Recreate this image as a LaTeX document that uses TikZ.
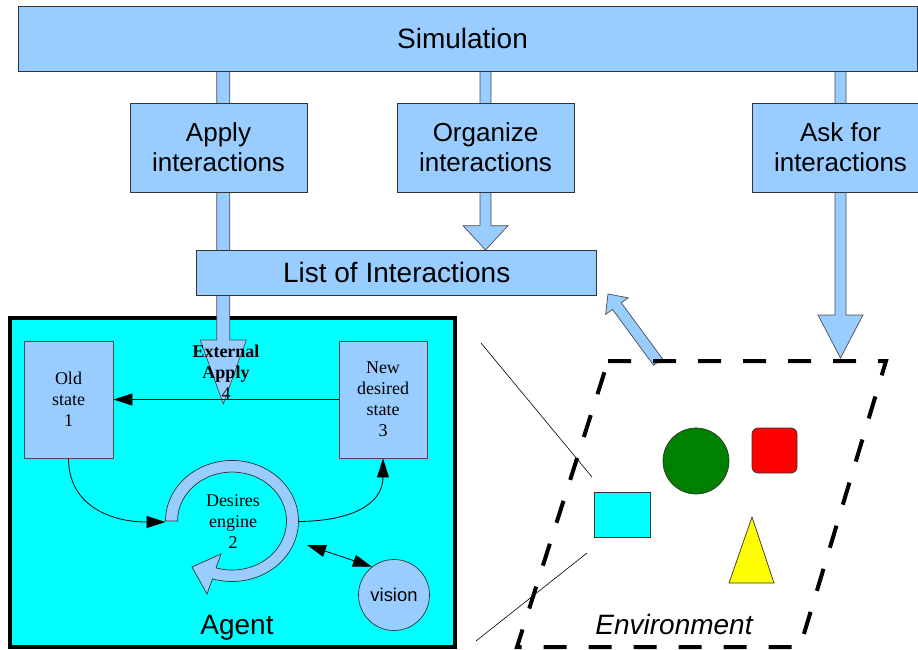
\documentclass[tikz,border=0pt]{standalone}
\usepackage{fontspec}
\setmainfont{Liberation Serif}
\setsansfont{Liberation Sans}
\usetikzlibrary{arrows.meta}
\definecolor{lblue}{RGB}{153,204,255}
\definecolor{envgreen}{RGB}{0,128,0}
\definecolor{aqua}{RGB}{0,255,255}
\definecolor{pure red}{RGB}{255,0,0}
\definecolor{pure yellow}{RGB}{255,255,0}
\begin{document}
\begin{tikzpicture}[x=1pt,y=-1pt,
  box/.style={draw=black!80, line width=0.8pt, fill=lblue, inner sep=0pt, align=center},
  sansbig/.style={font=\sffamily\fontsize{28}{32}\selectfont},
  sansmid/.style={font=\sffamily\fontsize{26}{30}\selectfont},
  seriftxt/.style={font=\fontsize{18}{21}\selectfont, align=center, inner sep=0pt},
  blockarrow/.style={draw=black!70, line width=0.7pt, fill=lblue},
  conn/.style={draw=black, line width=0.8pt},
  tipend/.style={-{Triangle[length=19pt,width=12pt]}},
  tipboth/.style={{Triangle[length=19pt,width=12pt]}-{Triangle[length=19pt,width=12pt]}},
  thing/.style={draw=black!80, line width=0.7pt, inner sep=0pt},
]
\useasboundingbox (0,0) rectangle (918,649);
\clip (0,0) rectangle (918,649);

% agent frame
\node[draw=black, line width=4pt, fill=aqua, minimum width=445.5pt, minimum height=329pt, inner sep=0pt] (agent) at (232.25,482.5) {};

% block arrows
\draw[blockarrow] (216.8,60) -- (229.8,60) -- (229.8,340) -- (246.3,340) -- (223.3,404) -- (200.3,340) -- (216.8,340) -- cycle;
\draw[blockarrow] (480,60) -- (491,60) -- (491,225.7) -- (508,225.7) -- (485.5,250) -- (463,225.7) -- (480,225.7) -- cycle;
\draw[blockarrow] (835,60) -- (846,60) -- (846,315) -- (863,315) -- (840.5,358) -- (818,315) -- (835,315) -- cycle;
\draw[blockarrow] (662.4,358.7) -- (621.3,302.8) -- (628.2,297.8) -- (608,294) -- (605.6,314.4) -- (612.5,309.4) -- (653.6,365.3) -- cycle;

% boxes
\node[box, minimum width=899pt, minimum height=65.7pt] (sim) at (467.5,38.9) {};
\node[sansbig, inner sep=0pt] (simlbl) at (462.5,38.9) {Simulation};
\node[box, sansmid, minimum width=177pt, minimum height=89pt] (apply) at (218.5,147.5) {Apply\\interactions};
\node[box, sansmid, minimum width=177pt, minimum height=89pt] (organize) at (485.5,147.5) {Organize\\interactions};
\node[box, sansmid, minimum width=177pt, minimum height=89pt] (ask) at (840.5,147.5) {Ask for\\interactions};
\node[box, sansbig, minimum width=400pt, minimum height=45pt] (list) at (396.7,272.5) {List of Interactions};

% agent internals
\node[box, seriftxt, draw=black!70, minimum width=89pt, minimum height=117pt] (old) at (68.5,399.5) {Old\\state\\1};
\node[box, seriftxt, draw=black!70, minimum width=88pt, minimum height=117pt] (new) at (383,399.5) {New\\desired\\state\\3};
\draw[conn, tipend] (new.west) -- (old.east);
\node[seriftxt] (ext) at (226,372) {\textbf{External}\\\textbf{Apply}\\4};

% desires engine ring
\draw[fill=lblue, draw=black!80, line width=0.7pt]
  (165.5,521) arc[start angle=180, end angle=467, x radius=66.5, y radius=60.5]
  -- (207,594) -- (192,567) -- (221,554) -- (216.1,567.9)
  arc[start angle=467, end angle=180, x radius=54.5, y radius=49] -- cycle;
\node[seriftxt] (des) at (233,521.8) {Desires\\engine\\2};
\coordinate (ringL) at (165.5,522);
\coordinate (ringR) at (299,521.5);
\coordinate (ringV) at (307,545);
\draw[conn, tipend] (old.south) .. controls (68.5,505) and (110,522) .. (ringL);
\draw[conn, tipend] (ringR) .. controls (350,521) and (383,505) .. (new.south);

\node[circle, thing, fill=lblue, minimum size=71pt, font=\sffamily\fontsize{18.4}{22}\selectfont] (vis) at (394,595) {vision};
\draw[conn, tipboth] (ringV) -- (vis.128);
\node[anchor=base, sansbig, inner sep=0pt] (agentlbl) at (237,634) {Agent};

% environment
\draw[line width=0.6pt] (481,343) -- (592,477);
\draw[line width=0.6pt] (476,641) -- (587,553);
\node[thing, fill=aqua, minimum width=56pt, minimum height=45pt] (sq) at (622,514.5) {};
\node[thing, circle, fill=envgreen, minimum size=66pt] (gc) at (696,461) {};
\node[thing, fill=pure red, rounded corners=6pt, minimum width=45pt, minimum height=45pt] (rs) at (774.5,450.5) {};
\draw[draw=black!80, line width=0.7pt, fill=pure yellow] (752,517) -- (774,583) -- (729,583) -- cycle;
\draw[line width=4pt, dash pattern=on 23pt off 22pt] (608,361) -- (886,361) -- (800,647) -- (517,647) -- cycle;
\node[anchor=base, font=\sffamily\itshape\fontsize{28}{32}\selectfont, inner sep=0pt] (envlbl) at (674,634) {Environment};
\end{tikzpicture}
\end{document}
